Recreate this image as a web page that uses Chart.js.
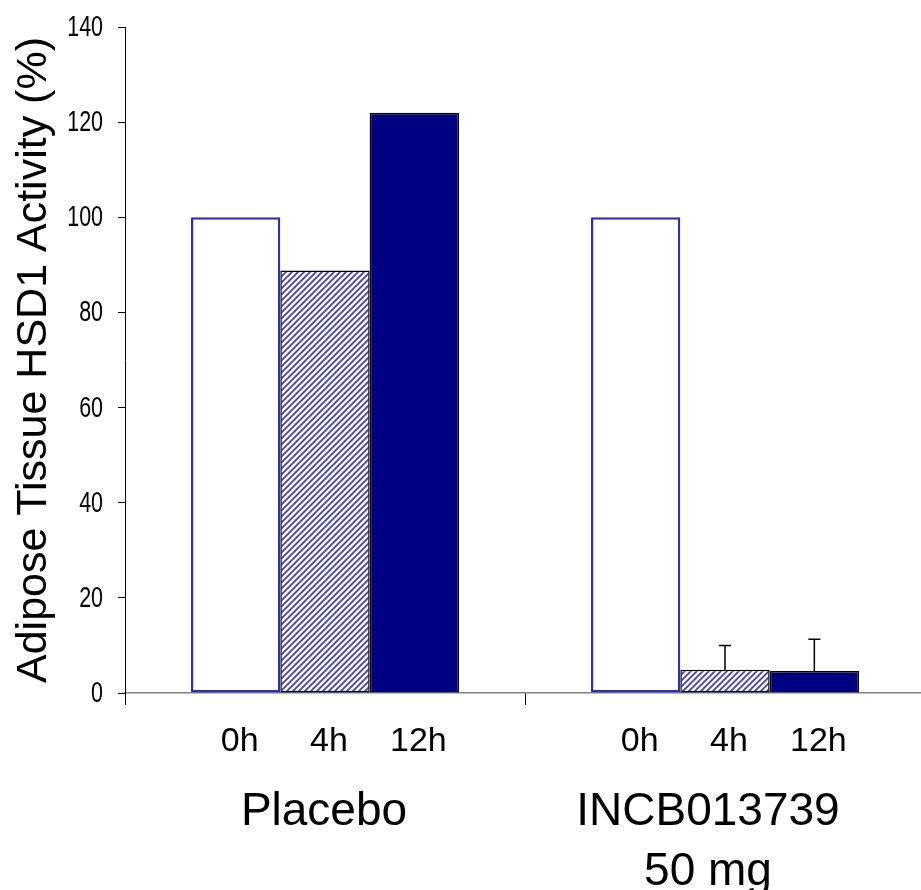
<!DOCTYPE html>
<html>
<head>
<meta charset="utf-8">
<script src="https://cdn.jsdelivr.net/npm/chart.js@4.4.1/dist/chart.umd.min.js"></script>
<style>
html,body{margin:0;padding:0;background:#fff;overflow:hidden;}
#outer{width:921px;height:890px;overflow:hidden;position:relative;}
#wrap{width:925px;height:890px;position:relative;}
</style>
</head>
<body>
<div id="outer"><div id="wrap"><canvas id="c"></canvas></div></div>
<script>
// ---- data ----
const groups = ["Placebo", ["INCB013739", "50 mg"]];
const timeLabels = ["0h", "4h", "12h"];
const values0h = [100, 100];
const values4h = [88.8, 4.9];
const values12h = [122, 4.6];
const err4h = [0, 5.1];
const err12h = [0, 6.7];
const yTicks = [0, 20, 40, 60, 80, 100, 120, 140];

const FONT = '"Liberation Sans", Arial, sans-serif';
const groupLabelShift = [-1, -17];

function hatch() {
  const s = 6;
  const c = document.createElement('canvas');
  c.width = s; c.height = s;
  const x = c.getContext('2d');
  x.fillStyle = '#ffffff';
  x.fillRect(0, 0, s, s);
  x.strokeStyle = '#4444aa';
  x.lineWidth = 1.8;
  x.beginPath();
  x.moveTo(-1, s + 1); x.lineTo(s + 1, -1);
  x.moveTo(-1, 1); x.lineTo(1, -1);
  x.moveTo(s - 1, s + 1); x.lineTo(s + 1, s - 1);
  x.stroke();
  return x.createPattern(c, 'repeat');
}

const errs = [null, err4h, err12h];

const annot = {
  id: 'annot',
  afterDraw(chart) {
    const ctx = chart.ctx;
    const xs = chart.scales.x, ys = chart.scales.y;
    ctx.save();
    // error bars
    ctx.strokeStyle = '#000';
    ctx.lineWidth = 1.5;
    chart.data.datasets.forEach((ds, di) => {
      const e = errs[di];
      if (!e) return;
      const meta = chart.getDatasetMeta(di);
      meta.data.forEach((el, i) => {
        if (!e[i]) return;
        const yTop = ys.getPixelForValue(ds.data[i] + e[i]);
        ctx.beginPath();
        ctx.moveTo(el.x, el.y);
        ctx.lineTo(el.x, yTop);
        ctx.moveTo(el.x - 6, yTop);
        ctx.lineTo(el.x + 6, yTop);
        ctx.stroke();
      });
    });
    ctx.fillStyle = '#000';
    // y tick labels (condensed)
    ctx.save();
    ctx.font = '29px ' + FONT;
    ctx.textAlign = 'right';
    ctx.textBaseline = 'middle';
    ctx.scale(0.74, 1);
    ys.ticks.forEach(t => {
      ctx.fillText(String(t.value), (ys.right - 22) / 0.74, ys.getPixelForValue(t.value) + 1);
    });
    ctx.restore();
    // time labels
    ctx.font = '34px ' + FONT;
    ctx.textAlign = 'center';
    ctx.textBaseline = 'middle';
    const yLab = xs.top + 49;
    chart.data.datasets.forEach((ds, di) => {
      const meta = chart.getDatasetMeta(di);
      meta.data.forEach((el) => {
        ctx.fillText(timeLabels[di], el.x + 4, yLab);
      });
    });
    // group labels
    ctx.font = '46px ' + FONT;
    ctx.textBaseline = 'alphabetic';
    groups.forEach((g, i) => {
      const lines = Array.isArray(g) ? g : [g];
      const cx = xs.getPixelForValue(i) + groupLabelShift[i];
      lines.forEach((ln, k) => {
        ctx.fillText(ln, cx, xs.top + 132 + k * 60);
      });
    });
    ctx.restore();
  }
};

new Chart(document.getElementById('c'), {
  type: 'bar',
  data: {
    labels: groups,
    datasets: [
      { label: timeLabels[0], data: values0h, backgroundColor: '#ffffff', borderColor: '#333399', borderWidth: 2.5, borderSkipped: false },
      { label: timeLabels[1], data: values4h, backgroundColor: hatch(), borderColor: '#000000', borderWidth: 1.5, borderSkipped: false },
      { label: timeLabels[2], data: values12h, backgroundColor: '#000080', borderColor: '#000000', borderWidth: 1.5, borderSkipped: false }
    ]
  },
  options: {
    responsive: true,
    maintainAspectRatio: false,
    animation: false,
    layout: { padding: { top: 27, right: 0, left: 0, bottom: 0 } },
    plugins: { legend: { display: false }, tooltip: { enabled: false } },
    datasets: { bar: { categoryPercentage: 0.67, barPercentage: 1.0 } },
    scales: {
      x: {
        offset: true,
        grid: { offset: true, drawOnChartArea: false, drawTicks: true, tickLength: 12, color: '#000' },
        border: { color: '#808080', width: 1.5 },
        ticks: { display: false },
        afterFit(s) { s.height = 197; }
      },
      y: {
        min: 0, max: 140,
        afterBuildTicks(s) { s.ticks = yTicks.map(v => ({ value: v })); },
        grid: { drawOnChartArea: false, drawTicks: true, tickLength: 7, color: '#000' },
        border: { color: '#000', width: 1 },
        ticks: { display: false },
        title: { display: true, text: 'Adipose Tissue HSD1 Activity (%)', color: '#000', font: { family: FONT, size: 43 }, padding: { top: 8, bottom: 0 } },
        afterFit(s) { s.width = 125; }
      }
    }
  },
  plugins: [annot]
});
</script>
</body>
</html>
